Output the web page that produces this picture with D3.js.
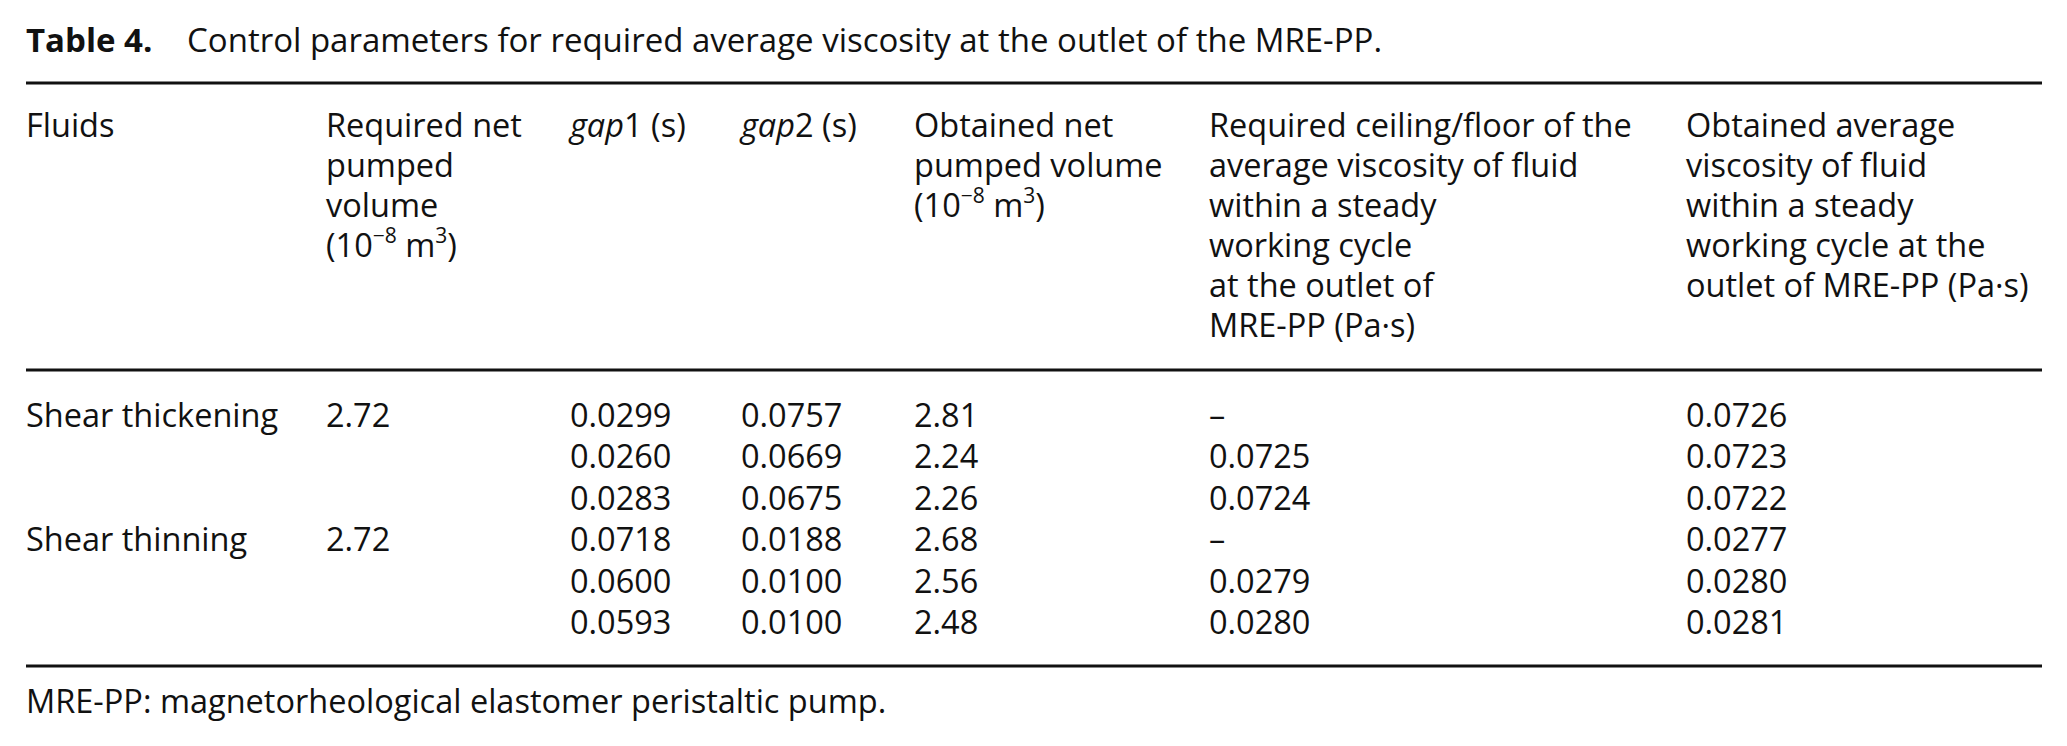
<!DOCTYPE html>
<meta charset="utf-8">
<title>Table 4</title>
<style>
body { margin: 0; background: #fff; }
text { font-family: "Open Sans", Lato, sans-serif; font-size: 32.5px; fill: #111; }
</style>
<body>
<script src="https://cdnjs.cloudflare.com/ajax/libs/d3/7.8.5/d3.min.js"></script>
<script>

var fluids = ["Shear thickening", "", "", "Shear thinning", "", ""];
var requiredVolume = ["2.72", "", "", "2.72", "", ""];
var gap1 = ["0.0299", "0.0260", "0.0283", "0.0718", "0.0600", "0.0593"];
var gap2 = ["0.0757", "0.0669", "0.0675", "0.0188", "0.0100", "0.0100"];
var obtainedVolume = ["2.81", "2.24", "2.26", "2.68", "2.56", "2.48"];
var requiredViscosity = ["–", "0.0725", "0.0724", "–", "0.0279", "0.0280"];
var obtainedViscosity = ["0.0726", "0.0723", "0.0722", "0.0277", "0.0280", "0.0281"];

var columns = ["fluid", "reqVol", "gap1", "gap2", "obtVol", "reqVisc", "obtVisc"];

// header lines per column, each line a list of [text, style] pieces
var headers = {
  fluid:  [[["Fluids"]]],
  reqVol: [[["Required net"]], [["pumped"]], [["volume"]], [["(10"], ["−8", "sup"], [" m"], ["3", "sup"], [")"]]],
  gap1:   [[["gap", "it"], ["1 (s)"]]],
  gap2:   [[["gap", "it"], ["2 (s)"]]],
  obtVol: [[["Obtained net"]], [["pumped volume"]], [["(10"], ["−8", "sup"], [" m"], ["3", "sup"], [")"]]],
  reqVisc: [[["Required ceiling/floor of the"]], [["average viscosity of fluid"]], [["within a steady"]],
            [["working cycle"]], [["at the outlet of"]], [["MRE-PP (Pa·s)"]]],
  obtVisc: [[["Obtained average"]], [["viscosity of fluid"]], [["within a steady"]],
            [["working cycle at the"]], [["outlet of MRE-PP (Pa·s)"]]]
};

var cells = {
  fluid: fluids, reqVol: requiredVolume, gap1: gap1, gap2: gap2,
  obtVol: obtainedVolume, reqVisc: requiredViscosity, obtVisc: obtainedViscosity
};

var width = 2067, height = 746;

var svg = d3.select("body").append("svg")
    .attr("width", width)
    .attr("height", height);

var x = d3.scaleOrdinal()
    .domain(columns)
    .range([26, 326, 570, 741, 914, 1209, 1686]);

var headY = d3.scaleLinear().domain([0, 1]).range([137, 177]);
var rowY = d3.scaleLinear().domain([0, 5]).range([427, 634]);

// title
var title = svg.append("text").attr("x", 26).attr("y", 52).style("font-size", "33px");
title.append("tspan").style("font-weight", "bold").text("Table 4.");
title.append("tspan").attr("x", 187).text("Control parameters for required average viscosity at the outlet of the MRE-PP.");

// rules
svg.selectAll(".rule")
    .data([83, 370, 666])
  .enter().append("line")
    .attr("class", "rule")
    .attr("x1", 26).attr("x2", 2042)
    .attr("y1", function(d) { return d; })
    .attr("y2", function(d) { return d; })
    .attr("stroke", "#111")
    .attr("stroke-width", 2.8);

// header
columns.forEach(function(c) {
  headers[c].forEach(function(line, i) {
    var t = svg.append("text").attr("x", x(c)).attr("y", headY(i));
    var back = 0;
    line.forEach(function(p) {
      var s = t.append("tspan").text(p[0]);
      if (p[1] == "it") s.style("font-style", "italic");
      if (p[1] == "sup") {
        s.style("font-size", "21px").attr("dy", -14);
        back = 14;
      } else if (back) {
        s.attr("dy", back);
        back = 0;
      }
    });
  });
});

// body cells
columns.forEach(function(c) {
  svg.selectAll(".cell-" + c)
      .data(cells[c])
    .enter().append("text")
      .attr("class", "cell-" + c)
      .attr("x", x(c))
      .attr("y", function(d, i) { return rowY(i); })
      .text(function(d) { return d; });
});

// footnote
svg.append("text")
    .attr("x", 26).attr("y", 713)
    .text("MRE-PP: magnetorheological elastomer peristaltic pump.");

</script>
